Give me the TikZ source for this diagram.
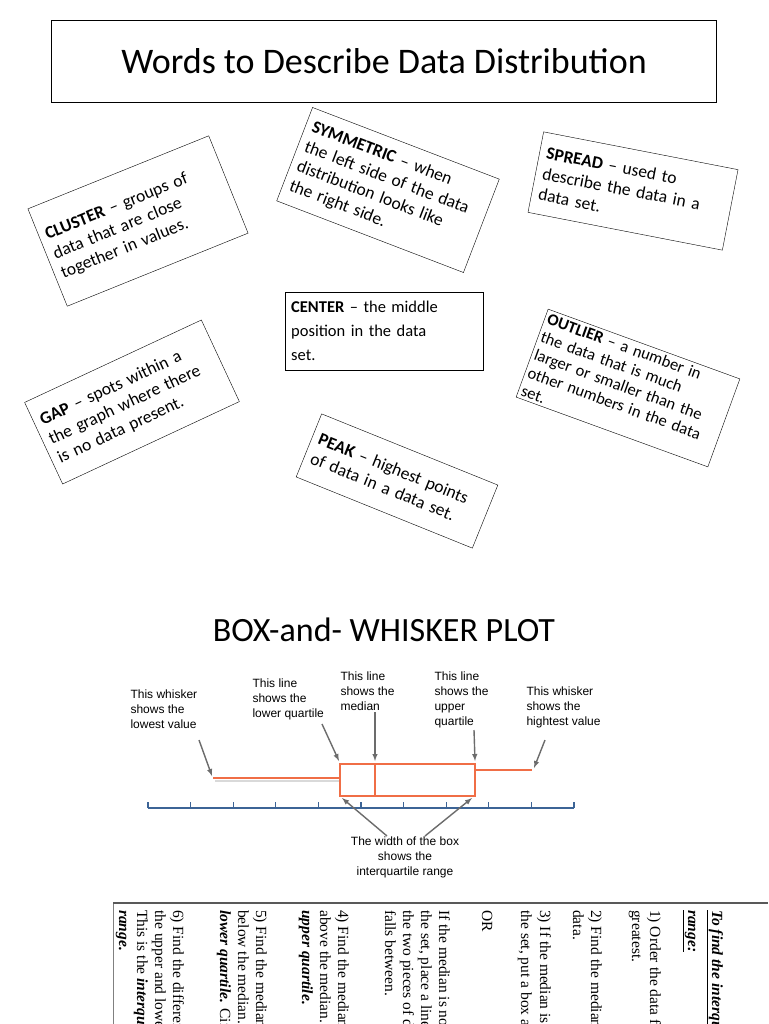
\documentclass[tikz,border=0pt]{standalone}
\usepackage{fontspec}
\setmainfont{Carlito}
\newfontfamily\arialf{Liberation Sans}
\newfontfamily\serff{Liberation Serif}
\definecolor{axisc}{RGB}{60,100,150}
\definecolor{orc}{RGB}{240,110,70}
\begin{document}
\begin{tikzpicture}[x=1pt,y=-1pt,
  card/.style={draw,fill=white,inner sep=7pt,align=left,font=\fontsize{17.5}{21}\selectfont},
  lbl/.style={font=\arialf\fontsize{12}{15}\selectfont,align=left},
  ptr/.style={draw=gray!85!black,line width=1.4pt,-latex},
  orl/.style={draw=orc,line width=2.2pt},
  col/.style={rotate=-90,anchor=base west,font=\serff\fontsize{15.5}{16}\selectfont,inner sep=0pt}]
\useasboundingbox (0,0) rectangle (768,1024);
\fill[white] (0,0) rectangle (768,1024);
\node[draw,minimum width=665,minimum height=82,font=\fontsize{36}{40}\selectfont] (title) at (384,61) {Words to Describe Data Distribution};
\node[card,text width=181,minimum height=105,rotate=22] (cluster) at (138,221) {\textbf{CLUSTER} -- groups of\\data that are close\\together in values.};
\node[card,text width=186,minimum height=100,rotate=-21] (sym) at (388,190) {\textbf{SYMMETRIC} -- when\\the left side of the data\\distribution looks like\\the right side.};
\node[card,text width=184,minimum height=82,rotate=-11] (spread) at (633,191) {\textbf{SPREAD} -- used to\\describe the data in a\\data set.};
\node[card,text width=186,minimum height=78,anchor=north west,inner sep=6pt,font=\fontsize{16.5}{24}\selectfont] (center) at (285,292) {\textbf{CENTER} -- the middle\\position in the data\\set.};
\node[card,text width=198,minimum height=88,rotate=-20,inner sep=3pt,font=\fontsize{16.5}{19}\selectfont] (outlier) at (628,388) {\textbf{OUTLIER} -- a number in\\the data that is much\\larger or smaller than the\\other numbers in the data\\set.};
\node[card,text width=181,minimum height=90,rotate=25] (gap) at (132,402) {\textbf{GAP} -- spots within a\\the graph where there\\is no data present.};
\node[card,text width=176,minimum height=68,rotate=-22] (peak) at (397,481) {\textbf{PEAK} -- highest points\\of data in a data set.};
\node[font=\fontsize{34}{38}\selectfont] (bwtitle) at (384,630) {BOX-and- WHISKER PLOT};
% axis
\draw[axisc,line width=1.3pt] (148,808) -- (574,808);
\foreach \i in {0,...,10} \draw[axisc,line width=1.3pt] ({148+42.6*\i},808) -- ({148+42.6*\i},802);
% plot
\draw[gray!30,line width=2pt] (215,781) -- (340,781);
\draw[orl] (213,778) -- (340,778);
\draw[orl] (340,764) rectangle (475,796);
\draw[orl] (375,764) -- (375,796);
\draw[orl] (475,770) -- (532,770);
\coordinate (lw) at (212,776);
\coordinate (lq) at (339,761);
\coordinate (md) at (375,761);
\coordinate (uq) at (475,761);
\coordinate (hw) at (534,768);
\coordinate (bl) at (342,798);
\coordinate (br) at (472,798);
\node[lbl,anchor=north west] (t1) at (127,686) {This whisker\\shows the\\lowest value};
\node[lbl,anchor=north west] (t2) at (249,675) {This line\\shows the\\lower quartile};
\node[lbl,anchor=north west] (t3) at (337,668) {This line\\shows the\\median};
\node[lbl,anchor=north west] (t4) at (431,668) {This line\\shows the\\upper\\quartile};
\node[lbl,anchor=north west] (t5) at (523,683) {This whisker\\shows the\\hightest value};
\node[lbl,align=center,anchor=north] (t6) at (405,833) {The width of the box\\shows the\\interquartile range};
\draw[ptr] (199,740) -- (lw);
\draw[ptr] (322,724) -- (lq);
\draw[ptr] (375,712) -- (md);
\draw[ptr] (474,730) -- (uq);
\draw[ptr] (545,740) -- (hw);
\draw[ptr] (387,836) -- (bl);
\draw[ptr] (425,836) -- (br);
% bottom page
\draw[gray,line width=1pt] (113,903) -- (113,1024);
\draw[gray!70!black,line width=2.5pt] (113,903) -- (768,903);
\begin{scope}
\clip (114,905) rectangle (768,1024);
\foreach \x/\t in {
  712/{\textbf{\textit{\underline{To find the interquartile}}}},
  688/{\textbf{\textit{\underline{range:}}}},
  650/{1) Order the data from least to},
  632/{greatest.},
  591/{2) Find the median of the},
  573/{data.},
  540/{3) If the median is a number in},
  521/{the set, put a box around it.},
  482/{OR},
  439/{If the median is not a number in},
  421/{the set, place a line where},
  403/{the two pieces of data it},
  385/{falls between.},
  338/{4) Find the median of the data},
  320/{above the median. This is the},
  302/{\textbf{\textit{upper quartile.}}},
  256/{5) Find the median of the data},
  238/{below the median. This is the},
  220/{\textbf{\textit{lower quartile.}} Circle it.},
  173/{6) Find the difference between},
  155/{the upper and lower quartiles.},
  137/{This is the \textbf{\textit{interquartile}}},
  119/{\textbf{\textit{range.}}}}
  \node[col] at (\x,910) {\t};
\end{scope}
\end{tikzpicture}
\end{document}
